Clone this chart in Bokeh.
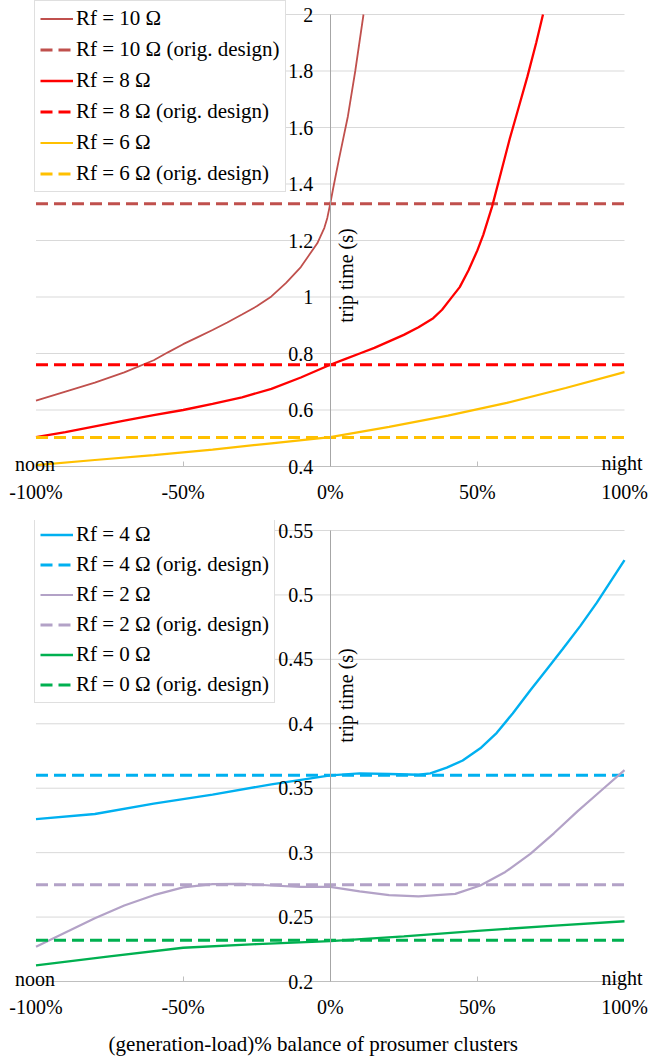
import numpy as np
from bokeh.plotting import figure
from bokeh.models import (Range1d, LinearAxis, FixedTicker, Legend, LegendItem,
                          Label, CustomJSTickFormatter)
from bokeh.layouts import column
from bokeh.embed import file_html
from bokeh.resources import INLINE

FONT = "Liberation Serif"

# ---------------- top panel data ----------------
x_rf10 = [-100, -90, -80, -70, -60, -55, -50, -45, -40, -35, -30, -25, -20, -15, -10, -7,
          -4.4, -2, -1, 0, 1, 3, 6, 8.5, 11.3]
y_rf10 = [0.633, 0.665, 0.697, 0.733, 0.776, 0.805, 0.833, 0.858, 0.883, 0.910, 0.938,
          0.967, 1.002, 1.050, 1.106, 1.151, 1.190, 1.245, 1.280, 1.330, 1.385, 1.490,
          1.640, 1.800, 2.000]
x_rf8 = [-100, -90, -80, -70, -60, -50, -40, -30, -20, -10, 0, 5, 10, 15, 20, 25, 30, 35,
         38, 41, 44, 47, 50, 52, 55, 58, 61, 64, 67, 70, 72.3]
y_rf8 = [0.504, 0.522, 0.542, 0.562, 0.582, 0.600, 0.622, 0.645, 0.675, 0.715, 0.760,
         0.780, 0.800, 0.820, 0.843, 0.866, 0.893, 0.925, 0.955, 0.995, 1.035, 1.095,
         1.165, 1.220, 1.320, 1.440, 1.560, 1.670, 1.780, 1.900, 2.000]
x_rf6 = [-100, -80, -60, -40, -20, 0, 20, 40, 60, 80, 100]
y_rf6 = [0.405, 0.423, 0.440, 0.460, 0.482, 0.504, 0.540, 0.580, 0.625, 0.678, 0.734]
orig_rf10 = 1.33
orig_rf8 = 0.76
orig_rf6 = 0.503
top_yticks = [0.4, 0.6, 0.8, 1.0, 1.2, 1.4, 1.6, 1.8, 2.0]

# ---------------- bottom panel data ----------------
x_rf4 = [-100, -80, -60, -40, -20, 0, 10, 20, 30, 34, 39.6, 45, 51, 56.6, 62, 68, 73.5,
         79, 85, 90.6, 100]
y_rf4 = [0.326, 0.330, 0.338, 0.345, 0.353, 0.360, 0.3615, 0.361, 0.3605, 0.3615, 0.366,
         0.3715, 0.381, 0.393, 0.408, 0.426, 0.442, 0.458, 0.476, 0.494, 0.527]
x_rf2 = [-100, -90, -80, -70, -60, -50, -40, -30, -20, -10, 0, 10, 20, 30, 42.5, 51,
         59.5, 68, 76, 84, 92, 100]
y_rf2 = [0.227, 0.238, 0.249, 0.259, 0.267, 0.273, 0.2755, 0.2758, 0.2745, 0.2735, 0.2735,
         0.270, 0.267, 0.266, 0.268, 0.2745, 0.285, 0.299, 0.315, 0.332, 0.348, 0.364]
x_rf0 = [-100, -75, -50, -25, 0, 25, 50, 75, 100]
y_rf0 = [0.2125, 0.2195, 0.2262, 0.229, 0.2313, 0.235, 0.2393, 0.2432, 0.2468]
orig_rf4 = 0.36
orig_rf2 = 0.275
orig_rf0 = 0.232
bot_yticks = [0.2, 0.25, 0.3, 0.35, 0.4, 0.45, 0.5, 0.55]

x_ticks = [-100, -50, 0, 50, 100]

W = 649
PX_LEFT, PX_RIGHT = 35.5, 624.0   # pixel columns of -100% and 100%


def make_panel(height, px_top, px_bottom, yticks, series, label_y, leg_top, leg_spacing):
    # frame covers the whole figure so that no text is clipped
    sx = (PX_RIGHT - PX_LEFT) / 200.0
    x0 = -100 - PX_LEFT / sx
    x1 = 100 + (W - PX_RIGHT) / sx
    ylo, yhi = yticks[0], yticks[-1]
    sy = (px_bottom - px_top) / (yhi - ylo)
    y1 = yhi + px_top / sy
    y0 = ylo - (height - px_bottom) / sy

    p = figure(width=W, height=height, output_backend="svg", toolbar_location=None,
               x_range=Range1d(x0, x1), y_range=Range1d(y0, y1),
               x_axis_location=None, y_axis_location=None,
               min_border=0, min_border_left=0, min_border_right=0,
               min_border_top=0, min_border_bottom=0)
    p.outline_line_color = None
    p.grid.visible = False

    # horizontal grid lines at the y ticks, spanning the data width
    p.segment(x0=[-100] * len(yticks), x1=[100] * len(yticks), y0=yticks, y1=yticks,
              line_color="#d9d9d9", line_width=1, level="underlay")

    xa = LinearAxis(fixed_location=ylo, bounds=(-100, 100),
                    ticker=FixedTicker(ticks=x_ticks),
                    formatter=CustomJSTickFormatter(code="return tick + '%';"))
    xa.axis_line_color = "#bfbfbf"
    xa.major_tick_line_color = "#bfbfbf"
    xa.major_tick_in = 5
    xa.major_tick_out = 0
    xa.minor_tick_line_color = None
    xa.major_label_text_font = FONT
    xa.major_label_text_font_size = "20px"
    xa.major_label_text_color = "black"
    xa.major_label_standoff = 14
    p.add_layout(xa, "below")

    ya = LinearAxis(fixed_location=0, bounds=(ylo, yhi), ticker=FixedTicker(ticks=yticks),
                    formatter=CustomJSTickFormatter(
                        code="return tick.toFixed(2).replace(/\\.?0+$/, '');"))
    ya.axis_line_color = "#a6a6a6"
    ya.major_tick_in = 0
    ya.major_tick_out = 0
    ya.minor_tick_line_color = None
    ya.major_label_text_font = FONT
    ya.major_label_text_font_size = "20px"
    ya.major_label_text_color = "black"
    ya.major_label_standoff = 17
    p.add_layout(ya, "left")

    items = []
    for lab, xs, ys, orig, color, lw in series:
        r1 = p.line(xs, ys, line_color=color, line_width=lw)
        r2 = p.line([-100, 100], [orig, orig], line_color=color, line_width=3,
                    line_dash="12 6")
        items.append(LegendItem(label=lab, renderers=[r1]))
        items.append(LegendItem(label=lab + " (orig. design)", renderers=[r2]))

    pad, lh = 5, 23
    leg_h = 2 * pad + 6 * lh + 5 * leg_spacing
    leg = Legend(items=items, location=(34, height - leg_top - leg_h), margin=0,
                 padding=pad, label_height=lh, glyph_height=lh, glyph_width=33,
                 spacing=leg_spacing, label_standoff=3, border_line_color="#bfbfbf",
                 label_text_font=FONT, label_text_font_size="21px",
                 label_text_color="black", background_fill_alpha=1)
    p.add_layout(leg)

    p.add_layout(Label(x=0, y=label_y, x_offset=16, text="trip time (s)",
                       angle=np.pi / 2, text_align="center", text_baseline="middle",
                       text_font=FONT, text_font_size="20px", text_color="black"))
    p.add_layout(Label(x=-100, y=ylo, x_offset=-21, y_offset=3, text="noon",
                       text_align="left", text_baseline="alphabetic",
                       text_font=FONT, text_font_size="20px", text_color="black"))
    p.add_layout(Label(x=100, y=ylo, x_offset=18, y_offset=4, text="night",
                       text_align="right", text_baseline="alphabetic",
                       text_font=FONT, text_font_size="20px", text_color="black"))
    return p


top_series = [
    ("Rf = 10 Ω", x_rf10, y_rf10, orig_rf10, "#C0504D", 1.8),
    ("Rf = 8 Ω", x_rf8, y_rf8, orig_rf8, "#FF0000", 2.3),
    ("Rf = 6 Ω", x_rf6, y_rf6, orig_rf6, "#FFC000", 2.2),
]
bot_series = [
    ("Rf = 4 Ω", x_rf4, y_rf4, orig_rf4, "#00B0F0", 2.4),
    ("Rf = 2 Ω", x_rf2, y_rf2, orig_rf2, "#B3A2C7", 2.2),
    ("Rf = 0 Ω", x_rf0, y_rf0, orig_rf0, "#00B050", 2.4),
]

p1 = make_panel(520, 14, 466, top_yticks, top_series, 1.076, 14, 6)
p2 = make_panel(541, 10, 461, bot_yticks, bot_series, 0.422, 10, 5)
p2.add_layout(Label(x=0, y=0.2, x_offset=-17, y_offset=-62,
                    text="(generation-load)% balance of prosumer clusters",
                    text_align="center", text_baseline="middle",
                    text_font=FONT, text_font_size="21px", text_color="black"))

layout = column(p1, p2, spacing=0)
open("out.html", "w").write(file_html(layout, INLINE))
